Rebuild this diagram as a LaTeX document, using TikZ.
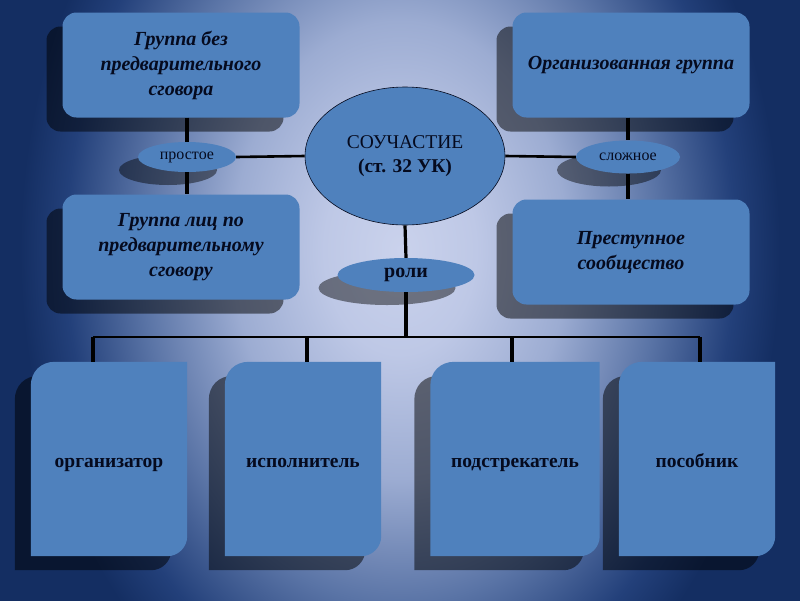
\documentclass[tikz,border=0pt]{standalone}
\usepackage{fontspec}
\setmainfont{Liberation Serif}
\usetikzlibrary{shapes.geometric, positioning, calc, backgrounds, shadows}
\definecolor{cBox}{RGB}{79,129,189}
\definecolor{cInk}{RGB}{5,10,30}
\definecolor{cDeep}{RGB}{20,46,98}
\definecolor{cGlowA}{RGB}{202,210,236}
\definecolor{cGlowB}{RGB}{190,200,230}
\definecolor{cGlowC}{RGB}{156,172,210}
\definecolor{cGlowD}{RGB}{90,116,166}
\definecolor{cGlowE}{RGB}{35,64,122}
\pgfdeclareradialshading{bgglow}{\pgfpoint{0bp}{0bp}}{color(0bp)=(cGlowA); color(5bp)=(cGlowB); color(11bp)=(cGlowC); color(17bp)=(cGlowD); color(22bp)=(cGlowE); color(25bp)=(cDeep); color(50bp)=(cDeep)}
\tikzset{
	grp/.style    ={rectangle, rounded corners=14pt, fill=cBox, minimum width=237pt, minimum height=105pt, align=center, text=cInk, font=\fontsize{20}{25}\selectfont\bfseries\itshape, drop shadow={shadow xshift=-16pt, shadow yshift=-14pt, opacity=0.5, fill=black}},
	oval/.style   ={ellipse, fill=cBox, inner sep=0pt, text=cInk, font=\fontsize{16}{18}\selectfont, drop shadow={shadow xshift=-19pt, shadow yshift=-13pt, opacity=0.45, fill=black}},
	rolebox/.style={rectangle, minimum width=156pt, minimum height=194pt, inner sep=0pt, text height=18pt, text depth=2pt, text=cInk, font=\fontsize{19.5}{22}\selectfont\bfseries},
	roleshadow/.style={fill=black, opacity=0.5, transform canvas={xshift=-16pt, yshift=-14pt}},
	conn/.style   ={line width=2.6pt, black},
	vconn/.style  ={line width=3.2pt, black},
}
% outline of a role card: round top-left and bottom-right corners
\newcommand{\rolepath}[1]{($(#1.south west)$) -- ($(#1.north west)+(0,24)$) .. controls ($(#1.north west)+(0,10)$) and ($(#1.north west)+(10,0)$) .. ($(#1.north west)+(24,0)$) -- (#1.north east) -- ($(#1.south east)+(0,-20)$) .. controls ($(#1.south east)+(0,-9)$) and ($(#1.south east)+(-9,0)$) .. ($(#1.south east)+(-20,0)$) -- cycle}
\begin{document}
\begin{tikzpicture}[x=1pt, y=-1pt]
	\useasboundingbox (0,0) rectangle (800,600);
	% group forms
	\node[grp] (gA) at (181,65) {Группа без\\предварительного\\сговора};
	\node[grp] (gB) at (181,247) {Группа лиц по\\предварительному\\сговору};
	\node[grp] (gC) at (631,65) {Организованная группа};
	\node[grp] (gD) at (631,252) {Преступное\\сообщество};
	\node[oval, minimum width=98pt, minimum height=30pt] (pros) at (187,157) {простое};
	\node[oval, minimum width=104pt, minimum height=33pt] (slozh) at (628,157) {сложное};
	\node[ellipse, fill=cBox, draw=cInk, line width=0.6pt, minimum width=200pt, minimum height=138pt, align=center, text=cInk, font=\fontsize{19.5}{24}\selectfont] (part) at (405,156) {СОУЧАСТИЕ\\{\bfseries(ст. 32 УК)}};
	\node[oval, minimum width=137pt, minimum height=34pt, font=\fontsize{20}{22}\selectfont\bfseries] (roli) at (406,275) {роли};
	% roles
	\node[rolebox] (org) at (109,459) {организатор};
	\node[rolebox] (isp) at (303,459) {исполнитель};
	\node[rolebox, minimum width=169pt] (pod) at (515,459) {подстрекатель};
	\node[rolebox] (pos) at (697,459) {пособник};
	% connectors
	\draw[vconn] (gA.south -| pros) -- (pros.north);
	\draw[vconn] (pros.south) -- (gB.north -| pros);
	\draw[conn] (pros.east) -- (part.west);
	\draw[vconn] (gC.south -| slozh) -- (slozh.north);
	\draw[vconn] (slozh.south) -- (gD.north -| slozh);
	\draw[conn] (slozh.west) -- (part.east);
	\draw[vconn] (part.south) -- (roli.north);
	\coordinate (hub) at (406,337);
	\draw[vconn] (roli.south) -- (hub);
	\coordinate (d1) at (93,337);
	\coordinate (d2) at (307,337);
	\coordinate (d3) at (512,337);
	\coordinate (d4) at (700,337);
	\draw[conn] (d1) -- (d4);
	\foreach \d/\r in {d1/org,d2/isp,d3/pod,d4/pos}
		\draw[vconn] (\d) -- (\d |- \r.north);
	\begin{scope}[on background layer]
		\fill[cDeep] (-2,-2) rectangle (802,602);
		\begin{scope}
			\clip (-2,-2) rectangle (802,602);
			\shade[shading=bgglow] (400,250) ellipse [x radius=380, y radius=520];
		\end{scope}
		\foreach \n in {org,isp,pod,pos} {
			\fill[roleshadow] \rolepath{\n};
			\fill[cBox] \rolepath{\n};
		}
	\end{scope}
\end{tikzpicture}
\end{document}
